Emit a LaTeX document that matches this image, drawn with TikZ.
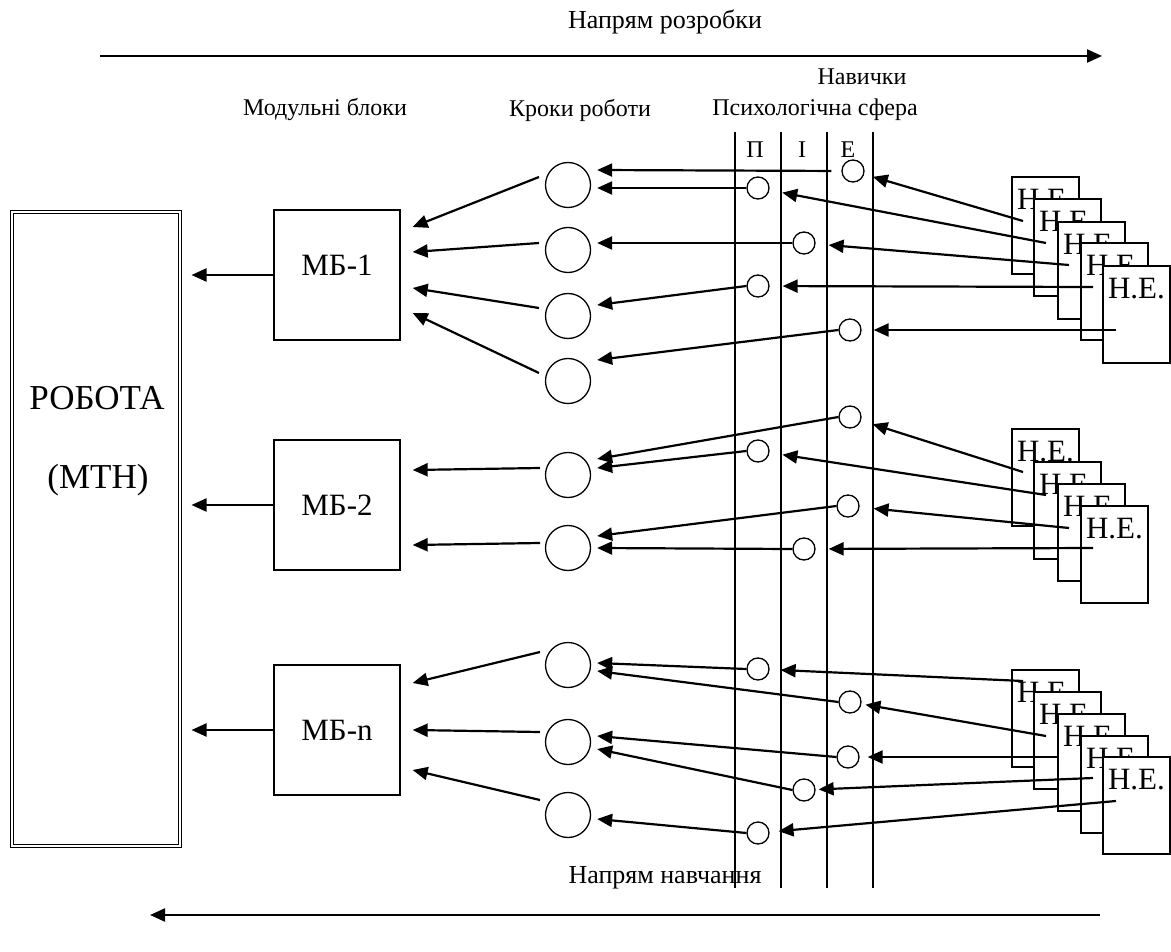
\documentclass[tikz,border=0pt]{standalone}
\usepackage{fontspec}
\setmainfont{Liberation Serif}
\usetikzlibrary{arrows.meta, calc}

\begin{document}
\begin{tikzpicture}[x=1pt, y=-1pt,
  every node/.style={font=\fontsize{24}{28}\selectfont},
  block/.style={draw, line width=1.3pt, minimum width=126pt, minimum height=130pt, inner sep=0pt, font=\fontsize{31}{36}\selectfont},
  krok/.style={draw, circle, line width=1.3pt, minimum size=45pt, inner sep=0pt},
  navyk/.style={draw, circle, fill=white, line width=1.3pt, minimum size=22pt, inner sep=0pt},
  sheet/.style={draw, fill=white, line width=1.3pt, minimum width=67pt, minimum height=97pt, inner sep=0pt,
    text height=24pt, text depth=56pt, font=\fontsize{31}{36}\selectfont},
  arr/.style={-{Triangle[length=15pt,width=13pt]}, line width=2.2pt}]
  \useasboundingbox (0,0) rectangle (1171,952);

  % directions
  \node (dev) at (665,22) {\fontsize{26}{30}\selectfont Напрям розробки};
  \node (edu) at (665,878) {\fontsize{26}{30}\selectfont Напрям навчання};
  \coordinate (dev1) at (100,56);
  \coordinate (dev2) at (1102,56);
  \coordinate (edu1) at (1100,915);
  \coordinate (edu2) at (150,915);
  \draw [arr] (dev1) -- (dev2);
  \draw [arr] (edu1) -- (edu2);

  % headings
  \node (skills) at (862,77) {Навички};
  \node (hmb) at (325,110) {Модульні блоки};
  \node (hkr) at (580,110) {Кроки роботи};
  \node (hps) at (815,110) {Психологічна сфера};
  \node (lp) at (755,150) {П};
  \node (li) at (802,150) {І};
  \node (le) at (848,150) {Е};
  \foreach \x in {735,781,827,873}
    \draw [line width=1.3pt] (\x,132) -- (\x,888);

  % work
  \node (robota) [draw, double, double distance=2.2pt, line width=1pt, minimum width=168pt, minimum height=634pt] at (96,529) {};
  \node (robota1) at (97,398) {\fontsize{35}{40}\selectfont РОБОТА};
  \node (robota2) at (98,480) {\fontsize{35}{40}\selectfont (МТН)};

  % modules
  \node (mb1) [block, text depth=20pt] at (337,275) {МБ-1};
  \node (mb2) [block] at (337,505) {МБ-2};
  \node (mbn) [block] at (337,730) {МБ-n};

  % steps
  \foreach \k/\y in {1/185, 2/250, 3/316, 4/381, 5/475, 6/548, 7/665, 8/742, 9/815}
    \node (k\k) [krok] at (568,\y) {};

  % skills
  \foreach \n/\x/\y in {1/853/171, 2/758/188, 3/804/243, 4/758/286, 5/850/330,
                        6/850/417, 7/758/451, 8/848/506, 9/804/549,
                        10/758/669, 11/850/702, 12/848/757, 13/804/790, 14/758/833}
    \node (n\n) [navyk] at (\x,\y) {};

  % sheets
  \foreach \i/\x/\y in {1/1045.5/225.5, 2/1067.5/247.5, 3/1091.5/270.5, 4/1114.5/291.5, 5/1136.5/314.5,
                        6/1045.5/477.5, 7/1067.5/510.5, 8/1091.5/532.5, 9/1114.5/554.5,
                        10/1045.5/718.5, 11/1067.5/740.5, 12/1091.5/762.5, 13/1114.5/784.5, 14/1136.5/805.5}
    \node (he\i) [sheet] at (\x,\y) {Н.Е.};
  \foreach \i/\x/\y in {1/1023/221, 2/1046/243, 3/1069/265, 4/1093/287, 5/1116/330,
                        6/1023/472, 7/1046/495, 8/1069/528, 9/1093/548,
                        10/1023/681, 11/1046/736, 12/1057/757, 13/1093/778, 14/1116/801}
    \coordinate (h\i) at (\x,\y);

  % sheets -> skills
  \foreach \i/\g in {1/9, 2/13, 3/13, 4/13, 5/12, 6/12, 7/13, 8/14, 9/13, 10/11, 11/4, 12/8, 13/3, 14/9}
    \draw [arr, shorten >=\g pt] (h\i) -- (n\i);

  % skills -> steps
  \foreach \n/\k/\dy/\g in {1/1/-15/10, 2/1/3/0, 3/2/-7/0, 4/3/-11/0, 5/4/-21/0,
                            6/5/-16/0, 7/5/-7/0, 8/6/-12/0, 9/6/0/0,
                            10/7/-2/0, 11/7/6/0, 12/8/-6/0, 13/8/7/0, 14/9/4/0}
    \draw [arr, shorten <=\g pt] (n\n.west) -- ($(k\k.east)+(6,\dy)$);

  % steps -> modules
  \foreach \k/\m/\sx/\sy/\ey in {1/1/-29/-8/-48, 2/1/-29/-7/-23, 3/1/-29/-8/13, 4/1/-29/-8/38,
                                 5/2/-28/-7/-35, 6/2/-28/-5/40,
                                 7/n/-28/-13/-47, 8/n/-28/-10/0, 9/n/-28/-15/40}
    \draw [arr] ($(k\k)+(\sx,\sy)$) -- ($(mb\m.east)+(12,\ey)$);

  % modules -> work
  \foreach \m in {1,2,n}
    \draw [arr] (mb\m.west) -- ($(mb\m.west -| robota.east)+(11,0)$);
\end{tikzpicture}
\end{document}
